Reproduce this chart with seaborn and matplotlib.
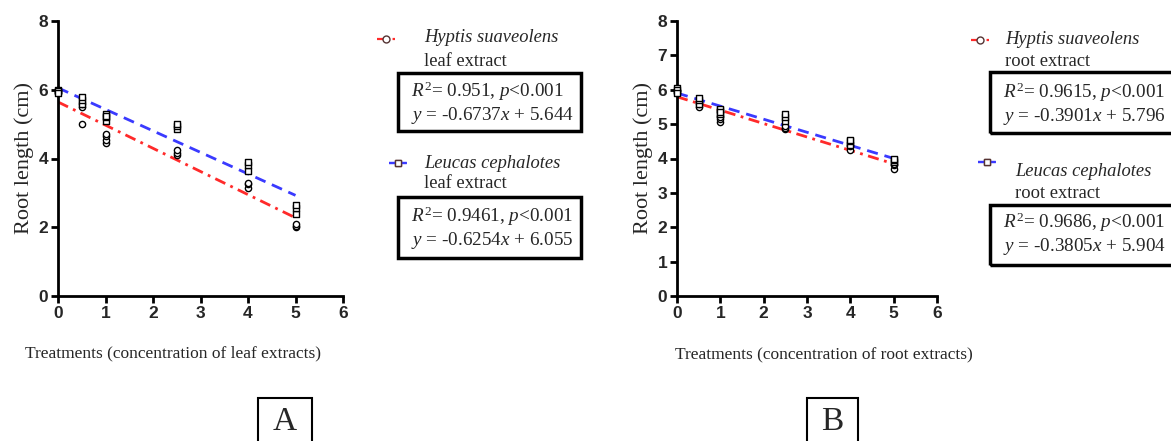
import numpy as np
import pandas as pd
import matplotlib
matplotlib.use("Agg")
import matplotlib.pyplot as plt
import seaborn as sns
from matplotlib.lines import Line2D
from matplotlib.patches import Rectangle

# ---------------- data ----------------
conc_reps = [0, 0, 0, 0.5, 0.5, 0.5, 1, 1, 1, 1, 2.5, 2.5, 2.5, 4, 4, 4, 5, 5, 5]

a_hyptis = [6.0, 5.95, 5.9, 5.0, 5.5, 5.6, 4.45, 4.55, 4.65, 4.7, 4.1, 4.15, 4.25, 3.15, 3.25, 3.3, 2.0, 2.05, 2.1]
a_leucas = [6.0, 5.95, 5.9, 5.6, 5.7, 5.8, 5.1, 5.2, 5.3, 5.25, 4.85, 4.95, 5.0, 3.65, 3.8, 3.9, 2.4, 2.55, 2.65]

b_hyptis = [6.0, 5.95, 5.9, 5.5, 5.6, 5.65, 5.05, 5.15, 5.25, 5.2, 4.85, 4.9, 4.95, 4.25, 4.35, 4.4, 3.7, 3.8, 3.85]
b_leucas = [6.05, 6.0, 5.9, 5.6, 5.7, 5.75, 5.3, 5.4, 5.45, 5.35, 5.1, 5.2, 5.3, 4.4, 4.5, 4.55, 3.9, 3.95, 4.0]

# regression equations (as printed)
a_slope = {"hyptis": -0.6737, "leucas": -0.6254}
a_inter = {"hyptis": 5.644, "leucas": 6.055}
b_slope = {"hyptis": -0.3901, "leucas": -0.3805}
b_inter = {"hyptis": 5.796, "leucas": 5.904}
line_x = [0, 5]

a_stats = ["$R^2$= 0.951, $p$<0.001\n$y$ = -0.6737$x$ + 5.644",
           "$R^2$= 0.9461, $p$<0.001\n$y$ = -0.6254$x$ + 6.055"]
b_stats = ["$R^2$= 0.9615, $p$<0.001\n$y$ = -0.3901$x$ + 5.796",
           "$R^2$= 0.9686, $p$<0.001\n$y$ = -0.3805$x$ + 5.904"]

xticks = [0, 1, 2, 3, 4, 5, 6]
a_yticks = [0, 2, 4, 6, 8]
b_yticks = [0, 1, 2, 3, 4, 5, 6, 7, 8]

# ---------------- style ----------------
sns.set_style("white")
plt.rcParams["font.family"] = ["Liberation Serif", "DejaVu Serif"]
plt.rcParams["mathtext.fontset"] = "custom"
plt.rcParams["mathtext.rm"] = "Liberation Serif"
plt.rcParams["mathtext.it"] = "Liberation Serif:italic"

W, H = 1171, 441
fig = plt.figure(figsize=(W / 100, H / 100), dpi=100)

def fx(px):
    return px / W

def fy(py):
    return 1 - py / H

RED = "#ff2a2a"
BLUE = "#3a3aff"
TICKFONT = ["Liberation Sans Narrow", "DejaVu Sans Condensed", "Liberation Sans", "DejaVu Sans"]

def panel(left_px, right_px, hy, le, sl, it, yticks):
    ax = fig.add_axes([fx(left_px), fy(296), fx(right_px) - fx(left_px), fy(21) - fy(296)])
    for key, col, ls in [("hyptis", RED, (0, (4, 2, 1, 2))), ("leucas", BLUE, (0, (4, 2.5)))]:
        ly = [sl[key] * x + it[key] for x in line_x]
        sns.lineplot(x=line_x, y=ly, ax=ax, color=col, linewidth=2, linestyle=ls, zorder=2)
    sns.scatterplot(x=conc_reps, y=hy, ax=ax, marker="o", s=20, color="white",
                    edgecolor="black", linewidth=1.0, zorder=3, clip_on=False)
    sns.scatterplot(x=conc_reps, y=le, ax=ax, marker="s", s=20, color="white",
                    edgecolor="black", linewidth=1.0, zorder=3, clip_on=False)
    ax.set_xlim(0, 6)
    ax.set_ylim(0, 8)
    ax.set_xticks(xticks)
    ax.set_yticks(yticks)
    sns.despine(ax=ax)
    for s in ["left", "bottom"]:
        ax.spines[s].set_linewidth(2)
        ax.spines[s].set_color("black")
    ax.tick_params(axis="both", direction="out", length=5, width=2, color="black",
                   bottom=True, left=True, pad=2)
    for lab in ax.get_xticklabels() + ax.get_yticklabels():
        lab.set_family(TICKFONT)
        lab.set_fontweight("bold")
        lab.set_fontsize(12.5)
    ax.set_ylabel("Root length (cm)", fontsize=16, labelpad=3)
    ax.set_xlabel("")
    return ax

axA = panel(58, 343, a_hyptis, a_leucas, a_slope, a_inter, a_yticks)
axB = panel(677, 937, b_hyptis, b_leucas, b_slope, b_inter, b_yticks)

fig.text(fx(173), fy(353), "Treatments (concentration of leaf extracts)", ha="center", va="center", fontsize=12.5)
fig.text(fx(824), fy(355), "Treatments (concentration of root extracts)", ha="center", va="center", fontsize=12.5)

# ---- legends / annotation boxes ----
def handle(col, ls, mk):
    return Line2D([], [], color=col, linestyle=ls, linewidth=1.6, marker=mk, markersize=5,
                  markerfacecolor="white", markeredgecolor="#553333")

def legend_entry(ax, h, hx_px, hy_px):
    lg = ax.legend(handles=[h], labels=[" "], loc="center left",
                   bbox_to_anchor=(fx(hx_px), fy(hy_px)), bbox_transform=fig.transFigure,
                   frameon=False, handlelength=1.6, borderpad=0, borderaxespad=0,
                   handletextpad=0, fontsize=8)
    ax.add_artist(lg)

def stat_box(x0, y0, x1, y1, txt, tx, ty):
    fig.patches.append(Rectangle((fx(x0), fy(y1)), fx(x1) - fx(x0), fy(y0) - fy(y1),
                                 transform=fig.transFigure, fill=False, edgecolor="black",
                                 linewidth=2.5, zorder=5))
    fig.text(fx(tx), fy(ty), txt, ha="left", va="center", fontsize=13.8, linespacing=1.1)

# Panel A
legend_entry(axA, handle(RED, (0, (3, 1.5, 1, 1.5)), "o"), 377, 40)
fig.text(fx(424), fy(38), "Hyptis suaveolens", style="italic", fontsize=13.3, va="center")
fig.text(fx(424), fy(61), "leaf extract", fontsize=13.3, va="center")
stat_box(398, 73, 581, 131, a_stats[0], 411, 103)
legend_entry(axA, handle(BLUE, (0, (3, 2)), "s"), 389, 164)
fig.text(fx(424), fy(163), "Leucas cephalotes", style="italic", fontsize=13.3, va="center")
fig.text(fx(424), fy(184), "leaf extract", fontsize=13.3, va="center")
stat_box(398, 197, 581, 258, a_stats[1], 411, 228)

# Panel B
legend_entry(axB, handle(RED, (0, (3, 1.5, 1, 1.5)), "o"), 971, 41)
fig.text(fx(1005), fy(39), "Hyptis suaveolens", style="italic", fontsize=13.3, va="center")
fig.text(fx(1005), fy(61), "root extract", fontsize=13.3, va="center")
stat_box(990, 72, 1175, 133, b_stats[0], 1003, 104)
legend_entry(axB, handle(BLUE, (0, (3, 2)), "s"), 978, 163)
fig.text(fx(1015), fy(172), "Leucas cephalotes", style="italic", fontsize=13.3, va="center")
fig.text(fx(1015), fy(193), "root extract", fontsize=13.3, va="center")
stat_box(990, 205, 1175, 265, b_stats[1], 1003, 234)

# Panel letters
for x0, x1, letter in [(258, 312, "A"), (807, 858, "B")]:
    fig.patches.append(Rectangle((fx(x0), fy(445)), fx(x1) - fx(x0), fy(398) - fy(445),
                                 transform=fig.transFigure, fill=False, edgecolor="black",
                                 linewidth=1.5, zorder=5))
    fig.text(fx((x0 + x1) / 2), fy(422), letter, ha="center", va="center", fontsize=24)

fig.savefig("out.png", dpi=100)
